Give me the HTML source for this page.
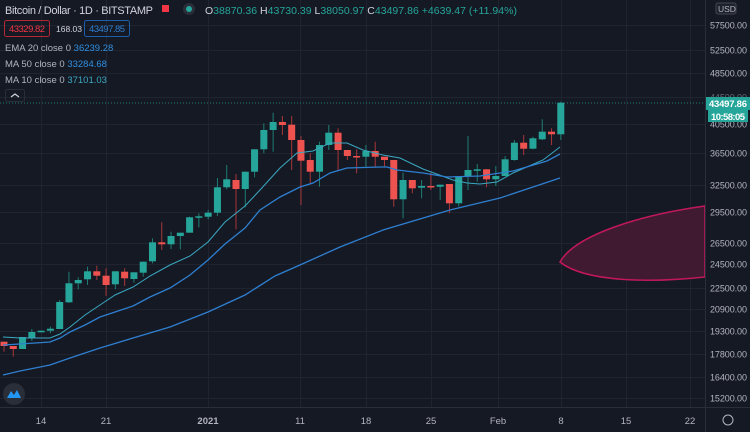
<!DOCTYPE html>
<html><head><meta charset="utf-8"><style>
html,body{margin:0;padding:0;background:#131722;}
svg{display:block;font-family:"Liberation Sans",sans-serif;}
</style></head><body>
<svg id="s" width="750" height="432" viewBox="0 0 750 432" xmlns="http://www.w3.org/2000/svg">
<rect width="750" height="432" fill="#151924"/>
<g id="grid" stroke="#1f2430" stroke-width="1"></g>
<path d="M560,262 C575,235 640,215 705,206 L705,277 C650,283 585,282 560,262 Z" fill="#3f1a30" stroke="#c2185b" stroke-width="1.5"/>
<line x1="0" y1="103" x2="705" y2="103" stroke="#26a69a" stroke-width="1" stroke-dasharray="1,2" opacity="0.7"/>
<g id="c"></g>
<polyline fill="none" stroke="#3aa8c1" stroke-width="1" points="3,337 20,338 50,338 60,334 70,327 85,315 100,305 115,295 133,287 150,276 170,265 190,256 208,242 225,222 245,206 260,190 280,168 297,153 313,151 330,143 347,143 363,150 383,155 400,158 423,169 453,180 467,183 480,184 497,182 513,173 543,160 560,147"/>
<polyline fill="none" stroke="#2f7fd0" stroke-width="1.3" points="3,345 20,344 50,342 60,338 70,332 85,325 100,317 115,312 133,306 150,297 170,288 190,275 208,260 225,244 245,228 260,210 280,197 300,187 313,183 330,173 347,168 380,167 387,167 397,170 423,173 447,177 480,176 513,171 547,161 560,154"/>
<polyline fill="none" stroke="#2f7fd0" stroke-width="1.3" points="3,375 20,371 50,365 70,358 100,348 133,338 170,327 208,312 245,295 275,276 300,265 340,247 383,230 450,210 500,198 560,178"/>
<line x1="705.5" y1="0" x2="705.5" y2="432" stroke="#2a2e39"/>
<line x1="0" y1="407.5" x2="750" y2="407.5" stroke="#2a2e39"/>
<g id="ax" fill="#b2b5be" font-size="9"></g>
<g id="dx" fill="#b2b5be" font-size="9.5" text-anchor="middle">
<text x="41" y="424">14</text><text x="106" y="424">21</text><text x="208" y="424" font-weight="bold">2021</text><text x="300" y="424">11</text><text x="366" y="424">18</text><text x="431" y="424">25</text><text x="498" y="424">Feb</text><text x="561" y="424">8</text><text x="626" y="424">15</text><text x="690" y="424">22</text>
</g>
<circle cx="728" cy="420" r="5" fill="none" stroke="#b2b5be" stroke-width="1"/>
<rect x="716" y="3" width="20" height="11" rx="2" fill="#1e222d" stroke="#434651"/>
<text x="718" y="12" fill="#b2b5be" font-size="8.5">USD</text>
<rect x="706" y="97" width="44" height="13" fill="#26a69a"/>
<text x="709" y="107" fill="#fff" font-size="9.5" font-weight="bold" textLength="38">43497.86</text>
<rect x="708" y="110" width="40" height="12" fill="#26a69a"/>
<text x="711" y="120" fill="#fff" font-size="9.5" font-weight="bold" textLength="34">10:58:05</text>
<circle cx="14" cy="394" r="11" fill="#2a2e39"/>
<path d="M7,398 L11,391 L14,395 L17,390 L21,398 Z" fill="#2196f3"/>
<text x="5" y="14" fill="#d1d4dc" font-size="11" textLength="148">Bitcoin / Dollar · 1D · BITSTAMP</text>
<rect x="162" y="5" width="7" height="7" fill="#f23645"/>
<circle cx="189" cy="9" r="6" fill="#2a2e39"/><circle cx="189" cy="9" r="3" fill="#26a69a"/>
<text x="205" y="14" font-size="10.5" fill="#d1d4dc" textLength="312">O<tspan fill="#26a69a">38870.36</tspan> H<tspan fill="#26a69a">43730.39</tspan> L<tspan fill="#26a69a">38050.97</tspan> C<tspan fill="#26a69a">43497.86 +4639.47 (+11.94%)</tspan></text>
<rect x="4.5" y="20.5" width="45" height="16" rx="2" fill="none" stroke="#b22833"/>
<text x="9" y="32" fill="#f23645" font-size="9.5" textLength="36">43329.82</text>
<text x="56" y="32" fill="#d1d4dc" font-size="8.5">168.03</text>
<rect x="84.5" y="20.5" width="45" height="16" rx="2" fill="none" stroke="#1e5ea8"/>
<text x="89" y="32" fill="#2f7fd0" font-size="9.5" textLength="36">43497.85</text>
<text x="5" y="51" fill="#b2b5be" font-size="9.5">EMA 20 close 0 <tspan fill="#2f8fe0">36239.28</tspan></text>
<text x="5" y="67" fill="#b2b5be" font-size="9.5">MA 50 close 0 <tspan fill="#2f8fe0">33284.68</tspan></text>
<text x="5" y="83" fill="#b2b5be" font-size="9.5">MA 10 close 0 <tspan fill="#3aa8c1">37101.03</tspan></text>
<rect x="5.5" y="89.5" width="19" height="12" rx="2" fill="none" stroke="#2a2e39"/>
<path d="M11,97 L15,94 L19,97" fill="none" stroke="#d1d4dc" stroke-width="1.2"/>
</svg>
<script>
var NS="http://www.w3.org/2000/svg";
function el(p,t,a,tx){var e=document.createElementNS(NS,t);for(var k in a)e.setAttribute(k,a[k]);if(tx)e.textContent=tx;p.appendChild(e);return e;}
var g=document.getElementById('grid'),ax=document.getElementById('ax');
var lv=[[57500,25],[52500,50],[48500,73],[44500,97],[40500,124],[36500,153],[32500,185],[29500,212],[26500,243],[24500,264],[22500,288],[20900,309],[19300,331],[17800,354],[16400,377],[15200,398]];
lv.forEach(function(v){el(g,'line',{x1:0,x2:705,y1:v[1]+0.5,y2:v[1]+0.5});if(v[0]!=44500)el(ax,'text',{x:710,y:v[1]+3.5,textLength:37},v[0]+'.00');});
el(ax,'text',{x:710,y:100.5,opacity:0.5,textLength:37},'44500.00');
[41,106,208,300,366,431,498,561,626,690].forEach(function(x){el(g,'line',{x1:x+0.5,x2:x+0.5,y1:0,y2:407});});
var C=[['r',341.7,346,341.7,351.7],['r',346,349,346,356.7],['g',337,349,337,349],['g',332,338,329,341],['g',330.7,332.3,330.7,332.3],['g',328.7,330.7,326.7,333.3],['g',302,329,300,329],['g',283.3,302.3,271.7,303],['g',280,283.3,277.3,289.3],['g',271.3,279.3,266.7,285],['r',271.3,275.7,265.7,280],['r',275.7,285,268.3,296],['g',271.3,284.3,271.3,289.3],['r',271.7,278.3,268.3,286],['g',272.3,279,272.3,282.7],['g',261.7,272.7,261.7,276.7],['g',242.3,261.3,238.3,263.3],['r',242.3,244.3,222.3,250],['g',236,244.3,231.7,249],['g',232.7,236,232.7,249.3],['g',217.3,232.7,216.7,232.7],['g',216.3,217.7,213.3,227.3],['g',212.7,216.7,210,219.3],['g',187.3,212.7,178,216],['g',179.3,187.3,165,189.3],['r',180,189,174,229.3],['g',171.7,189,171.7,207.3],['g',149.3,171.7,149.3,177.3],['g',130,149.3,123.3,153.3],['g',122,130,112.7,151.7],['r',122,125,116,135],['r',124.7,140,116,170],['r',140,160.7,136,205],['r',160,171.7,153.3,183.3],['g',145,171.7,141.7,186.7],['g',132.7,145,125,150],['r',132.7,150,128.3,170],['r',150,156,150,160],['r',156,157.3,149.3,173.3],['g',151,156.7,145,166.7],['r',151,156.7,141.7,166.7],['r',156.7,160,156.7,166.7],['r',160,199.3,160,206.7],['g',180,199.3,172.7,218.3],['r',180,188.3,180,193.3],['g',186,187.7,180,198.3],['r',186,187.3,172.7,190],['g',184.7,186.7,184.7,200],['r',184,203.3,184,213.3],['g',176,203.3,176,206.7],['g',170,176,136,190],['g',169.3,170,164,181.7],['r',169.3,179.3,169.3,187.3],['g',176,179.3,166,186],['g',159.3,176,156,176],['g',142.7,160,140,160.7],['r',142.7,148.7,135,155],['g',138.3,148.7,136.7,149.3],['g',131.7,139.3,119.3,140],['r',131.7,134.3,128.3,145],['g',102.7,134.3,101.7,140]];
var cg=document.getElementById('c');
C.forEach(function(c,i){var x=4+i*9.28,col=c[0]=='g'?'#26a69a':'#ef5350',wc=c[0]=='g'?'#1f7d74':'#a8353a';
el(cg,'line',{x1:x,x2:x,y1:c[3],y2:c[4],stroke:wc,'stroke-width':1});
el(cg,'rect',{x:x-3.5,y:c[1],width:7,height:Math.max(1.5,c[2]-c[1]),fill:col});});
</script>
</body></html>
